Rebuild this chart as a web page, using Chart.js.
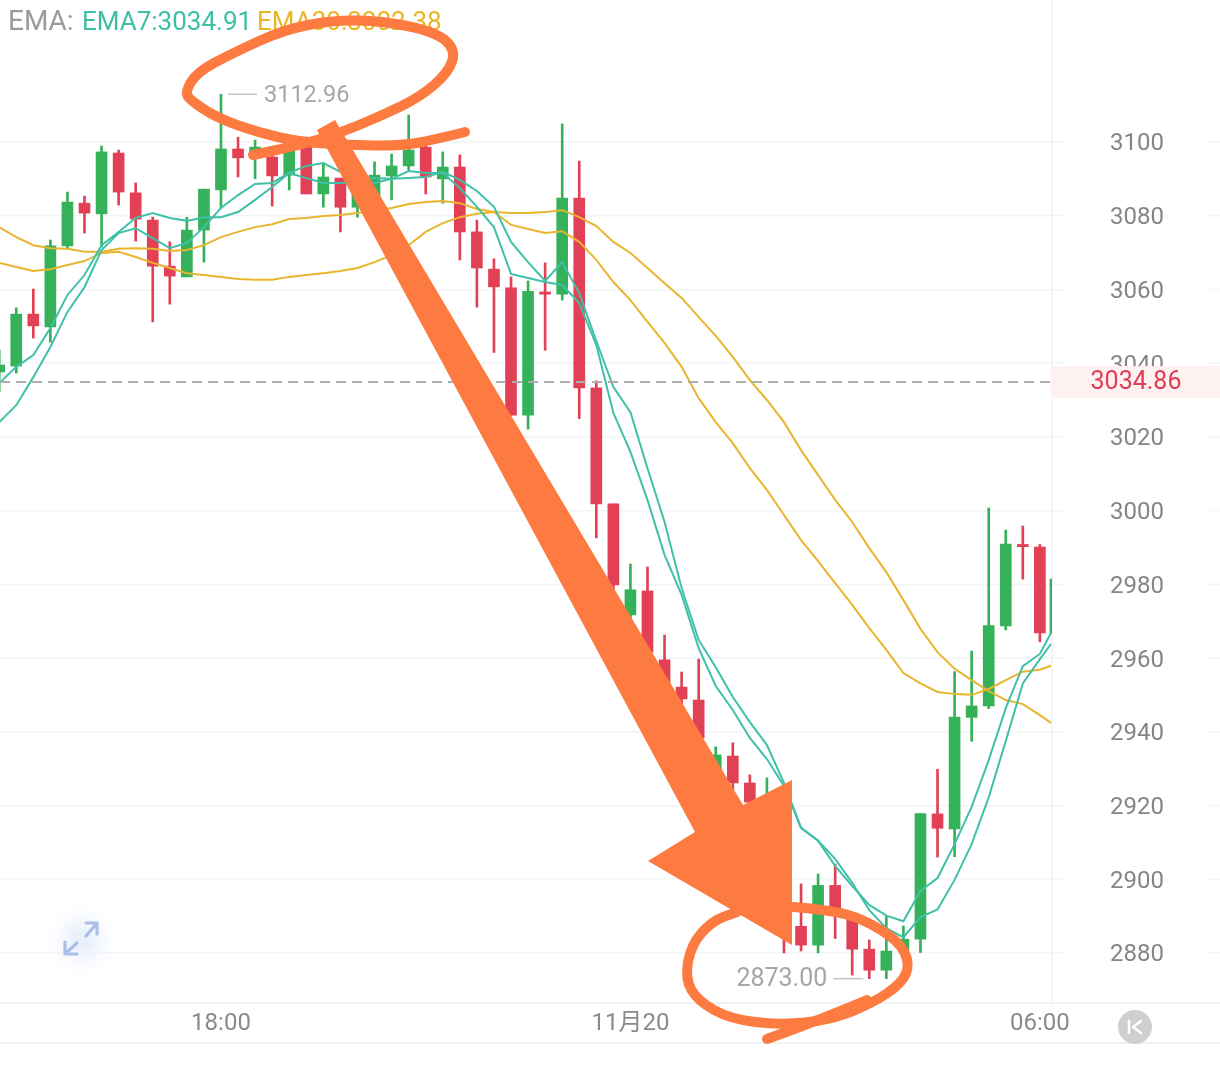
<!DOCTYPE html>
<html>
<head>
<meta charset="utf-8">
<style>html,body{margin:0;padding:0;background:#fff;overflow:hidden}canvas{display:block}</style>
<script src="https://cdn.jsdelivr.net/npm/chart.js@4"></script>
</head>
<body>
<canvas id="c" width="1220" height="1065"></canvas>
<script>
const candleIndex = [0,1,2,3,4,5,6,7,8,9,10,11,12,13,14,15,16,17,18,19,20,21,22,23,24,25,26,27,28,29,30,31,32,33,34,35,36,37,38,39,40,41,42,43,44,45,46,47,48,49,50,51,52,53,54,55,56,57,58,59,60,61,61.65];
const opens = [3037.6,3039.2,3053.3,3049.8,3071.8,3083.4,3080.5,3097.0,3086.2,3078.8,3066.3,3063.4,3076.1,3087.0,3098.1,3095.7,3095.9,3091.0,3098.6,3085.9,3090.2,3082.3,3085.1,3090.8,3093.5,3098.6,3090.0,3093.2,3075.6,3065.5,3060.4,3025.9,3059.3,3058.7,3084.8,3033.3,3001.8,2971.7,2978.2,2959.5,2952.1,2948.6,2924.2,2933.4,2926.1,2916.1,2916.1,2887.2,2882.1,2898.3,2890.3,2881.0,2875.3,2880.8,2883.7,2917.7,2913.6,2943.9,2947.0,2968.7,2990.8,2990.1,null];
const closes = [3039.5,3053.3,3050.1,3071.8,3083.7,3080.7,3097.3,3086.4,3079.1,3066.3,3063.6,3076.1,3087.2,3098.1,3095.7,3098.6,3090.8,3097.8,3085.9,3090.5,3082.3,3089.7,3091.0,3093.5,3097.8,3090.5,3093.2,3075.6,3065.8,3060.7,3025.9,3059.5,3058.7,3084.8,3033.3,3001.8,2979.8,2978.5,2961.6,2952.1,2948.9,2938.3,2933.7,2926.1,2920.9,2920.0,2887.6,2882.1,2898.3,2891.1,2881.0,2875.3,2880.5,2883.7,2917.8,2913.8,2944.0,2947.0,2968.8,2990.9,2990.2,2966.8,null];
const highs = [3043.6,3055.0,3060.1,3073.4,3086.4,3085.3,3098.9,3097.8,3088.9,3079.6,3072.9,3079.6,3087.2,3112.96,3101.3,3100.5,3098.6,3099.7,3101.3,3094.3,3090.2,3092.4,3094.6,3096.7,3107.3,3099.7,3097.3,3096.5,3078.8,3068.3,3063.4,3062.3,3067.2,3104.9,3094.8,3035.2,3001.8,2985.5,2984.7,2966.2,2956.2,2959.7,2935.9,2937.0,2928.3,2927.5,2921.5,2898.7,2901.4,2904.1,2890.8,2883.5,2889.9,2887.3,2917.8,2929.8,2956.3,2961.9,3000.7,2994.7,2995.8,2990.8,2981.4];
const lows = [3032.2,3037.3,3046.8,3045.7,3071.2,3075.3,3071.5,3082.9,3073.1,3051.2,3056.0,3063.4,3067.4,3082.1,3090.5,3090.0,3082.6,3087.0,3085.9,3082.3,3075.6,3079.6,3084.3,3084.3,3092.4,3085.9,3083.4,3068.0,3055.2,3042.9,3025.9,3022.1,3043.5,3057.1,3024.9,2992.6,2975.7,2968.1,2958.1,2948.6,2945.4,2935.0,2922.8,2924.2,2919.3,2913.3,2880.0,2880.5,2880.0,2883.9,2874.0,2873.0,2873.0,2879.4,2880.1,2906.0,2906.1,2937.4,2946.3,2967.6,2981.4,2964.4,2966.8];
const ema7 = [3034.6,3039.0,3042.2,3049.5,3058.5,3063.9,3072.0,3075.6,3079.4,3080.7,3079.4,3078.6,3079.6,3079.6,3081.0,3084.3,3087.8,3091.6,3093.5,3094.3,3091.9,3090.5,3090.2,3090.0,3090.2,3090.5,3091.9,3089.7,3086.7,3082.4,3072.9,3067.4,3062.3,3067.4,3059.0,3046.0,3033.5,3026.7,3011.5,2996.9,2979.0,2964.9,2957.5,2949.4,2942.6,2936.4,2926.1,2913.9,2910.4,2903.6,2898.1,2893.0,2890.1,2888.6,2896.8,2900.3,2909.5,2919.6,2932.3,2946.4,2957.8,2961.1,2966.8];
const emaTeal2 = [3024.0,3028.6,3036.2,3044.4,3053.9,3060.6,3070.7,3075.3,3076.6,3073.9,3071.2,3072.6,3076.9,3082.1,3085.6,3088.6,3088.9,3091.6,3090.2,3088.9,3088.9,3088.9,3088.9,3090.0,3092.1,3091.6,3091.6,3087.5,3082.4,3076.9,3064.2,3063.1,3062.0,3061.2,3056.3,3044.9,3026.5,3015.9,3002.9,2988.0,2977.1,2962.7,2952.4,2945.9,2938.3,2932.6,2925.3,2913.9,2910.4,2905.5,2899.0,2891.6,2886.7,2884.2,2889.7,2891.8,2899.8,2909.5,2922.2,2937.5,2953.1,2959.7,2963.8];
const ema30 = [3076.9,3074.2,3072.0,3071.2,3071.0,3070.2,3070.2,3071.0,3071.2,3071.0,3070.4,3070.7,3072.0,3074.2,3075.6,3076.9,3077.7,3079.1,3079.4,3079.9,3080.2,3080.7,3081.3,3082.1,3083.2,3083.7,3084.0,3083.4,3081.8,3081.0,3080.7,3080.7,3081.0,3081.5,3079.6,3077.2,3072.9,3069.9,3065.8,3061.7,3057.7,3052.5,3047.4,3041.7,3035.4,3030.0,3024.0,3016.4,3009.6,3002.9,2996.9,2989.8,2983.3,2975.7,2967.9,2961.6,2957.1,2954.0,2951.0,2948.6,2947.5,2944.5,2942.4];
const emaYellow2 = [3067.2,3066.1,3065.0,3065.5,3066.6,3067.7,3069.9,3070.2,3068.8,3067.2,3065.8,3064.4,3063.9,3063.4,3062.8,3062.6,3062.6,3063.4,3063.9,3064.4,3065.0,3065.8,3067.4,3069.3,3072.0,3075.6,3078.0,3079.6,3080.5,3081.0,3077.5,3076.4,3075.3,3075.8,3072.9,3068.0,3062.0,3057.1,3051.2,3045.5,3039.0,3030.5,3024.0,3018.3,3011.5,3005.6,2998.8,2992.0,2986.3,2980.3,2974.4,2968.1,2962.2,2955.9,2953.1,2950.8,2950.2,2950.0,2951.6,2954.0,2956.3,2956.8,2957.9];
const priceTicks = [2880,2900,2920,2940,2960,2980,3000,3020,3040,3060,3080,3100];
const timeTickIndex = [13,37,61];
const timeTickLabels = ['18:00','11月20','06:00'];
const lastPrice = 3034.86, highPrice = 3112.96, lowPrice = 2873.00;
const highLabel = '3112.96', lowLabel = '2873.00', lastLabel = '3034.86';
const highIndex = 13, lowIndex = 51;
const legendParts = [['EMA:','#9b9b9b',8,28],['EMA7:3034.91','#3dbfa5',82,26],['EMA30:3002.38','#e9b526',257,26]];

// hand-drawn overlay strokes (screen pixels; not chart data)
const arrowShape = [[317,130],[335,120],[743,805],[792,780],[792,945],[648,861],[695,832]];
const topLoop = [[465,132],[433,140],[400,146],[350,145],[300,142],[260,133],[217,118],[190,100],[185,92],[197,72],[233,53],[283,30],[333,20],[383,21],[436,32],[456,50],[448,73],[420,97],[383,115],[340,133],[300,145],[253,155]];
const bottomLoop = [[793,907],[830,910],[863,919],[899,941],[910,964],[902,983],[873,1003],[830,1020],[780,1025],[730,1019],[698,1001],[685,979],[691,945],[712,921],[737,912]];
const bottomTail = [[867,1000],[833,1014],[797,1028],[767,1039]];

const UP='#35b15a', DOWN='#e24055', TEAL='#3fc0a8', YELLOW='#e9b52e', ORANGE='#fd7b41', RULE='#f1f2f4';
const FONT="Roboto, 'Noto Sans CJK SC', sans-serif";
const bodyIndex = candleIndex.map((x,i)=>i).filter(i=>opens[i]!==null);
const isUp = i => closes[i]===null || closes[i]>=opens[i];
const wickData = candleIndex.map((x,i)=>({x, y:[lows[i],highs[i]]}));
const bodyData = bodyIndex.map(i=>({x:candleIndex[i], y:[Math.min(opens[i],closes[i]),Math.max(opens[i],closes[i])]}));
const bodyColors = bodyIndex.map(i=>isUp(i)?UP:DOWN);
const wickColors = candleIndex.map((x,i)=>isUp(i)?UP:DOWN);
const line = (arr,color)=>({type:'line',data:candleIndex.map((x,i)=>({x,y:arr[i]})),borderColor:color,borderWidth:2,pointRadius:0,tension:0,order:1,fill:false});

function smooth(ctx,pts){
  ctx.beginPath(); ctx.moveTo(pts[0][0],pts[0][1]);
  for(let i=1;i<pts.length-1;i++){
    const mx=(pts[i][0]+pts[i+1][0])/2,my=(pts[i][1]+pts[i+1][1])/2;
    ctx.quadraticCurveTo(pts[i][0],pts[i][1],mx,my);
  }
  const l=pts[pts.length-1]; ctx.lineTo(l[0],l[1]); ctx.stroke();
}

const overlay={id:'overlay',
  beforeDatasetsDraw(chart){
    const {ctx,scales:{y},chartArea:a}=chart;
    ctx.save();
    ctx.strokeStyle=RULE; ctx.lineWidth=2;
    ctx.beginPath(); ctx.moveTo(0,1043); ctx.lineTo(1220,1043); ctx.moveTo(a.right,a.bottom); ctx.lineTo(1220,a.bottom); ctx.stroke();
    ctx.lineWidth=1.5; ctx.strokeStyle='#f3f4f6';
    ctx.beginPath();
    priceTicks.forEach(t=>{const p=y.getPixelForValue(t);ctx.moveTo(1208,p);ctx.lineTo(1220,p);});
    ctx.stroke();
    ctx.restore();
  },
  afterDatasetsDraw(chart){
    const {ctx,scales:{x,y},chartArea:a}=chart;
    ctx.save();
    const py=y.getPixelForValue(lastPrice);
    ctx.strokeStyle='#aeaeae'; ctx.lineWidth=2; ctx.setLineDash([10,6]);
    ctx.beginPath(); ctx.moveTo(0,py); ctx.lineTo(a.right,py); ctx.stroke(); ctx.setLineDash([]);
    ctx.fillStyle='#fdf1f1'; ctx.fillRect(a.right,py-16,1220-a.right,32);
    ctx.font='25px '+FONT; ctx.textBaseline='middle'; ctx.textAlign='center';
    ctx.fillStyle='#e23c52'; ctx.fillText(lastLabel,1136,py+1);
    ctx.textAlign='left';
    legendParts.forEach(p=>{ctx.font=p[3]+'px '+FONT;ctx.fillStyle=p[1];ctx.fillText(p[0],p[2],23);});
    ctx.fillStyle='#a6a6a6'; ctx.strokeStyle='#c4c4c4'; ctx.lineWidth=1.5;
    const hy=y.getPixelForValue(highPrice),hx=x.getPixelForValue(highIndex);
    ctx.beginPath(); ctx.moveTo(hx+7,hy); ctx.lineTo(hx+36,hy); ctx.stroke();
    ctx.font='23.5px '+FONT; ctx.textAlign='left'; ctx.fillText(highLabel,hx+43,hy+2);
    const ly=y.getPixelForValue(lowPrice),lx=x.getPixelForValue(lowIndex);
    ctx.beginPath(); ctx.moveTo(lx-36,ly); ctx.lineTo(lx-6,ly); ctx.stroke();
    ctx.font='25px '+FONT; ctx.textAlign='right'; ctx.fillText(lowLabel,lx-42,ly+1);
    const g=ctx.createRadialGradient(82,940,8,82,940,36);
    g.addColorStop(0,'rgba(226,236,252,.75)'); g.addColorStop(1,'rgba(240,245,255,0)');
    ctx.fillStyle=g; ctx.beginPath(); ctx.arc(82,940,36,0,Math.PI*2); ctx.fill();
    ctx.strokeStyle='#a9bfe8'; ctx.lineWidth=3.2; ctx.lineCap='round'; ctx.lineJoin='round';
    ctx.beginPath(); ctx.moveTo(86,936); ctx.lineTo(97,923); ctx.moveTo(86,923); ctx.lineTo(97,923); ctx.lineTo(97,934);
    ctx.moveTo(77,943); ctx.lineTo(66,953); ctx.moveTo(65,942); ctx.lineTo(65,954); ctx.lineTo(77,954); ctx.stroke();
    ctx.fillStyle='#cfcfcf'; ctx.beginPath(); ctx.arc(1135,1027,17,0,Math.PI*2); ctx.fill();
    ctx.strokeStyle='#fff'; ctx.lineWidth=2.6;
    ctx.beginPath(); ctx.moveTo(1129,1021); ctx.lineTo(1129,1033); ctx.moveTo(1141,1021); ctx.lineTo(1133,1027); ctx.lineTo(1141,1033); ctx.stroke();
    ctx.fillStyle=ORANGE; ctx.strokeStyle=ORANGE; ctx.lineWidth=10; ctx.lineCap='round'; ctx.lineJoin='round';
    smooth(ctx,topLoop); smooth(ctx,bottomLoop); smooth(ctx,bottomTail);
    ctx.beginPath(); arrowShape.forEach((p,i)=>i?ctx.lineTo(p[0],p[1]):ctx.moveTo(p[0],p[1])); ctx.closePath(); ctx.fill();
    ctx.restore();
  }
};

new Chart(document.getElementById('c'),{
  type:'bar',
  data:{datasets:[
    line(ema7,TEAL),line(emaTeal2,TEAL),line(ema30,YELLOW),line(emaYellow2,YELLOW),
    {data:bodyData,backgroundColor:bodyColors,barThickness:11,order:2,grouped:false,borderWidth:0},
    {data:wickData,backgroundColor:wickColors,barThickness:2,order:3,grouped:false,borderWidth:0}
  ]},
  options:{
    responsive:false,animation:false,
    layout:{padding:0},
    plugins:{legend:{display:false},tooltip:{enabled:false}},
    events:[],
    scales:{
      x:{type:'linear',offset:false,min:0.047,max:61.71,
        grid:{display:false,offset:false,drawTicks:false},
        border:{display:true,color:RULE,width:2},
        afterBuildTicks(s){s.ticks=timeTickIndex.map(value=>({value}));},
        afterFit(s){s.height=62;s.paddingLeft=0;s.paddingRight=0;},
        ticks:{autoSkip:false,maxRotation:0,padding:7,color:'#8a8a8a',font:{family:FONT,size:24},
          callback(v){const k=timeTickIndex.indexOf(v);return k<0?'':timeTickLabels[k];}}
      },
      y:{type:'linear',position:'right',min:2866.4,max:3138.52,
        grid:{color:'#f3f4f6',lineWidth:1.5,drawTicks:true,tickLength:14,tickColor:'#f3f4f6'},
        border:{display:true,color:'#f3f4f6',width:2},
        afterBuildTicks(s){s.ticks=priceTicks.map(value=>({value}));},
        afterFit(s){s.width=168;s.paddingTop=0;s.paddingBottom=0;},
        ticks:{crossAlign:'near',padding:44,labelOffset:2.5,color:'#858585',font:{family:FONT,size:24},callback:v=>String(v)}
      }
    }
  },
  plugins:[overlay]
});
</script>
</body>
</html>
